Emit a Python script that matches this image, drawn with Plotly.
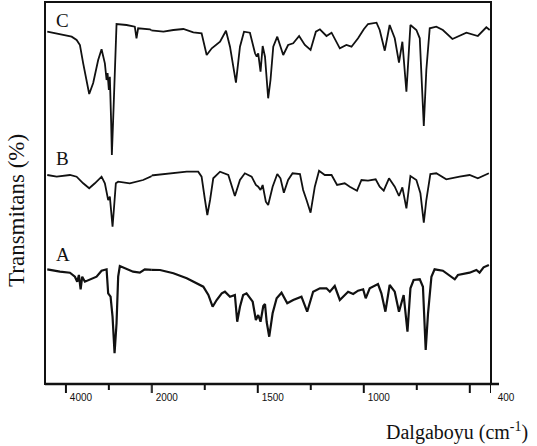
import plotly.graph_objects as go

# ---- data (wavenumber cm^-1, transmittance in arbitrary offset units) ----
wn_C = [4435, 4140, 3867, 3751, 3674, 3598, 3458, 3365, 3249, 3170, 3093, 3053, 3030, 3000, 2977,
        2946, 2930, 2900, 2860, 2821, 2588, 2395, 2356, 2318, 2046, 1945, 1898, 1851, 1804, 1765,
        1741, 1717, 1678, 1650, 1631, 1603, 1584, 1565, 1537, 1513, 1505, 1498, 1487, 1477, 1466,
        1451, 1440, 1427, 1408, 1380, 1357, 1333, 1305, 1278, 1251, 1226, 1207, 1176, 1152, 1113,
        1082, 1058, 1027, 1011, 1000, 980, 940, 925, 901, 878, 854, 834, 818, 799, 780,
        752, 736, 717, 705, 689, 658, 627, 582, 516, 462, 422, 406]
tr_C = [352.3, 350, 347.3, 344, 339, 320.7, 290, 301, 324, 334.7, 320.7, 304, 311, 294, 307.3,
        261, 229, 264, 314, 360, 359, 357.3, 345.7, 355.7, 354.7, 352.3, 354, 355, 351.7, 350.7,
        329, 335.7, 342.3, 353.3, 337.3, 301.3, 337.3, 352.3, 351.3, 330.7, 327.3, 330.7, 312.3, 338, 327.3,
        285.7, 304, 337.3, 347.3, 329, 339, 340.7, 348, 339, 334, 352.3, 354.7, 348, 351.3, 335.7,
        339, 337.3, 345.7, 351.3, 354.7, 360, 361.3, 354, 333.3, 359, 345.7, 321.3, 342.3, 292.3, 359,
        354, 345.7, 258, 314, 355.7, 357.3, 354, 345, 351.3, 348, 356.7, 354]

wn_B = [4435, 4216, 3907, 3751, 3598, 3458, 3326, 3170, 3093, 3016, 2977, 2937, 2914, 2884, 2837,
        2783, 2512, 2202, 1976, 1898, 1835, 1781, 1765, 1749, 1738, 1725, 1710, 1678, 1639, 1608,
        1584, 1561, 1529, 1509, 1498, 1487, 1477, 1462, 1451, 1430, 1408, 1393, 1377, 1357, 1336,
        1301, 1286, 1270, 1251, 1231, 1211, 1184, 1152, 1126, 1090, 1066, 1032, 1011, 980, 944,
        925, 906, 881, 854, 834, 818, 799, 780, 752, 733, 717, 705, 686, 658, 611,
        548, 501, 462, 410]
tr_B = [209, 207.3, 209, 207.3, 200.7, 195.7, 200.7, 207.3, 200.7, 184, 187.3, 165.7, 157.3, 174, 200.7,
        202.3, 200.7, 204, 209, 210.7, 212.3, 212.3, 207.3, 184, 169, 184, 205.7, 212.3, 209, 188,
        204, 210.7, 207.3, 199, 197.3, 194, 199, 182.3, 179, 197.3, 210, 205.7, 191.3, 204, 210.7,
        210, 194, 184, 171.3, 197.3, 213.3, 209, 209, 199, 200.7, 197.3, 193.3, 204, 203.3, 204.7,
        197.3, 193.3, 205.7, 197.3, 188, 196.7, 175.7, 208, 204, 190.7, 161.3, 184, 210, 210.7, 204.7,
        207.3, 209, 205.7, 210.7]

wn_A = [4435, 4140, 3907, 3791, 3737, 3698, 3658, 3621, 3558, 3442, 3286, 3170, 3053, 3016, 2960,
        2914, 2867, 2821, 2783, 2744, 2628, 2435, 2279, 2163, 1961, 1898, 1835, 1788, 1757, 1733,
        1713, 1694, 1670, 1655, 1631, 1608, 1597, 1584, 1569, 1553, 1524, 1509, 1498, 1487, 1474,
        1466, 1458, 1446, 1430, 1411, 1388, 1361, 1333, 1294, 1267, 1239, 1207, 1176, 1160, 1137,
        1113, 1074, 1050, 1027, 1003, 991, 972, 933, 917, 898, 878, 854, 834, 812, 794,
        780, 765, 736, 721, 708, 697, 681, 666, 627, 571, 556, 501, 469, 454, 435, 410]
tr_A = [114.7, 112.3, 111.3, 107.3, 102.3, 109, 94.7, 107.3, 102.3, 104.7, 107.3, 113.3, 114.7, 90.7, 87.3,
        67.3, 30.7, 60.7, 107.3, 118, 115.7, 112.3, 111.3, 114.7, 114, 110.7, 105.7, 100.7, 97.3, 89,
        77.3, 84, 90.7, 92.3, 87.3, 89, 62.3, 77.3, 89, 90.7, 82.3, 64, 69, 62.3, 78,
        80, 62, 47.3, 70.7, 85.7, 91.3, 80.7, 84, 87.3, 72.3, 92.3, 95.7, 95.7, 92.3, 98,
        84, 92.3, 90, 93.3, 94.7, 85.7, 95.7, 100, 90.7, 72.3, 99, 92.3, 72.3, 89, 52.3,
        95.7, 104, 104.7, 97.3, 34, 70.7, 107.3, 114.7, 113.3, 104.7, 109, 111.3, 114, 111.3, 116.7, 119]

labels = ["C", "B", "A"]
label_y = [364, 226, 130]

major_left = [4000]
minor_left = [3000]
major_right = [2000, 1500, 1000, 500, 400]
major_right_text = ["2000", "1500", "1000", " ", "400"]
minor_right = [1750, 1250, 750]

x_title = "Dalgaboyu (cm<sup>-1</sup>)"
y_title = "Transmitans (%)"

# ---- figure ----
fig = go.Figure()
ink = "#111111"
for wn, tr, w in [(wn_C, tr_C, 1.8), (wn_B, tr_B, 1.8), (wn_A, tr_A, 2.2)]:
    for xa in ["x", "x2"]:
        fig.add_trace(go.Scatter(x=wn, y=tr, mode="lines", xaxis=xa, yaxis="y",
                                 line=dict(color=ink, width=w), showlegend=False,
                                 hoverinfo="skip"))

left_rng = [4488, 2000]
right_rng = [2000, 400]
split = 106.7 / 445.7
tick_room = 10.0          # space below the frame, inside the plotting area, for tick marks
y_rng = [-tick_room, 382]
plot_h = y_rng[1] - y_rng[0]
frame_y0 = tick_room / plot_h

tickfont = dict(family="Liberation Sans, Arial, sans-serif", size=10, color=ink)
base = dict(ticks="outside", ticklen=9, tickwidth=2, tickcolor="rgba(0,0,0,0)",
            showgrid=False, zeroline=False, showline=False, tickmode="array", anchor="y",
            fixedrange=True, tickfont=tickfont, ticklabelshift=-15, ticklabelstandoff=-15)
fig.update_layout(
    template="none",
    xaxis=dict(domain=[0, split], range=left_rng, tickvals=major_left,
               ticktext=[str(v) for v in major_left], **base),
    xaxis2=dict(domain=[split, 1], range=right_rng, tickvals=major_right,
                ticktext=major_right_text, **base),
    yaxis=dict(range=y_rng, showticklabels=False, ticks="", showgrid=False,
               zeroline=False, showline=False, fixedrange=True),
    width=537, height=446,
    margin=dict(l=45, r=46, t=2, b=52),
    plot_bgcolor="white", paper_bgcolor="white",
)

# tick marks, placed through each axis' own scale
for xref, majors, minors in [("x", major_left + [2000], minor_left),
                             ("x2", major_right, minor_right)]:
    for v in majors:
        fig.add_shape(type="line", xref=xref, yref="y", x0=v, x1=v, y0=0, y1=-9,
                      line=dict(color=ink, width=2))
    for v in minors:
        fig.add_shape(type="line", xref=xref, yref="y", x0=v, x1=v, y0=0, y1=-6,
                      line=dict(color=ink, width=2))

# frame
fig.add_shape(type="rect", xref="paper", yref="paper", x0=0, y0=frame_y0, x1=1, y1=1,
              line=dict(color=ink, width=2))
fig.add_shape(type="line", xref="paper", yref="paper", x0=0, y0=frame_y0,
              x1=1 + 8 / 445.7, y1=frame_y0, line=dict(color=ink, width=2.5))

serif = "Liberation Serif, Times New Roman, serif"
for lab, ly in zip(labels, label_y):
    fig.add_annotation(text=lab, xref="paper", yref="y", x=0.02, y=ly, xanchor="left",
                       yanchor="middle", showarrow=False, font=dict(family=serif, size=19, color=ink))

fig.add_annotation(text=x_title, xref="paper", yref="paper", x=1 + 39 / 445.7,
                   y=-37 / plot_h, xanchor="right", yanchor="middle", showarrow=False,
                   font=dict(family=serif, size=20, color=ink))
fig.add_annotation(text=y_title, xref="paper", yref="paper", x=-28 / 445.7,
                   y=(394 - 210) / plot_h, xanchor="center", yanchor="middle", textangle=-90,
                   showarrow=False, font=dict(family=serif, size=23, color=ink))

fig.write_html("out.html", config={"displayModeBar": False, "staticPlot": True},
               post_script="document.body.style.margin='0px';")
